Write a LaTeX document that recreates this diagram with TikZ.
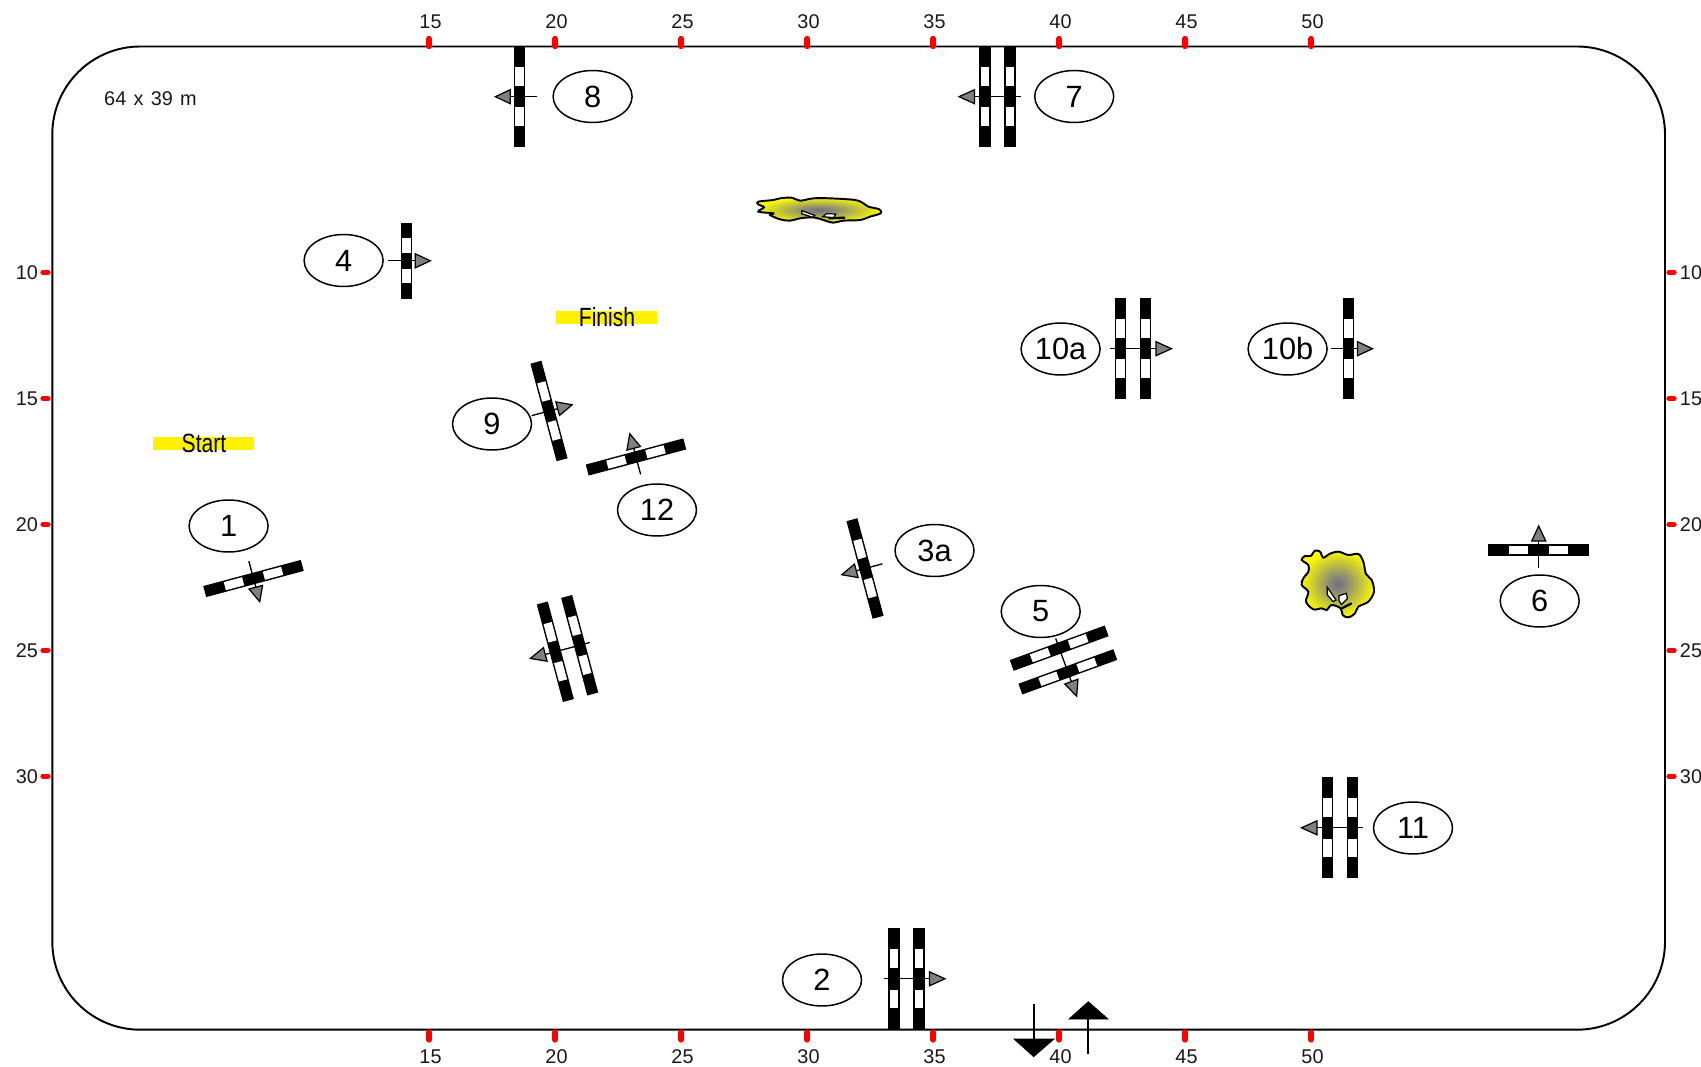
\documentclass[tikz,border=0pt]{standalone}
\usepackage{fontspec}
\setmainfont{Liberation Sans}
\usetikzlibrary{shapes.geometric}
\pgfdeclareradialshading{blobshade}{\pgfpoint{0bp}{0bp}}{color(0bp)=(gray!90!black);color(4bp)=(gray);color(26bp)=(yellow);color(50bp)=(yellow)}
\tikzset{
  course/.style={line width=1.1pt,draw=black},
  tick/.style={draw=red,line width=3pt,line cap=round},
  ticklabel/.style={font=\fontsize{11.3pt}{12pt}\selectfont,inner sep=0pt,text=black!90},
  num/.style={draw=black,fill=white,ellipse,line width=0.85pt,minimum width=1.58cm,minimum height=1.04cm,inner sep=0pt,font=\fontsize{17.5pt}{20pt}\selectfont},
  thinline/.style={draw=black,line width=0.75pt},
  arrowhead/.style={draw=black,fill=gray,line width=0.7pt,line join=miter},
  blackhead/.style={draw=black,fill=black},
  sidebar/.style={fill=yellow,draw=none},
  gate/.style={inner sep=0pt,font=\fontsize{15pt}{16pt}\selectfont},
  tunnel/.style={draw=black,line width=1.1pt,shading=blobshade},
  notch/.style={draw=black,fill=white,line width=0.7pt},
  notchline/.style={draw=black,line width=1.3pt},
}
% one striped bar, drawn in the current frame, at local x = #1, length #2
\newcommand{\stripebar}[2]{%
  \pgfmathsetmacro{\hl}{#2/2}\pgfmathsetmacro{\seg}{#2/5}\pgfmathsetmacro{\sb}{1.47*\seg}\pgfmathsetmacro{\sc}{0.53*\seg}%
  \fill[black] (#1-5.7,-\hl) rectangle (#1+5.7,\hl);
  \fill[white] (#1-4.2,-\sb) rectangle (#1+4.2,-\sc);
  \fill[white] (#1-4.2,\sc) rectangle (#1+4.2,\sb);
}
% single: centre, rotation, length
\newcommand{\singlejump}[4]{%
  \begin{scope}[shift={(#1,#2)},rotate=#3]
    \stripebar{0}{#4}
    \draw[thinline] (18,0) -- (-9,0);
    \draw[arrowhead] (-24,0) -- (-9,7) -- (-9,-7) -- cycle;
  \end{scope}}
\newcommand{\doublejump}[3]{%
  \begin{scope}[shift={(#1,#2)},rotate=#3]
    \stripebar{-12.6}{101}
    \stripebar{12.6}{101}
    \draw[thinline] (23,0) -- (-23,0);
    \draw[arrowhead] (-38.5,0) -- (-23,7) -- (-23,-7) -- cycle;
  \end{scope}}
\begin{document}
\begin{tikzpicture}[x=0.02cm,y=-0.02cm]
\useasboundingbox (0,0) rectangle (1701,1067);
\fill[white] (0,0) rectangle (1701,1067);
% course outline
\draw[course,rounded corners=1.76cm] (52.3,46.5) rectangle (1665,1029.7);
% ticks
\foreach \v/\px in {15/429,20/555,25/681,30/807,35/933,40/1059,45/1185,50/1311}{
  \draw[tick] (\px,38.5) -- (\px,46.5);
  \draw[tick] (\px,1032) -- (\px,1040);
  \node[ticklabel] (top\v) at (\px+1.5,22) {\v};
  \node[ticklabel] (bot\v) at (\px+1.5,1057) {\v};
}
\foreach \v/\py in {10/272.3,15/398.7,20/524.5,25/650.3,30/776.2}{
  \draw[tick] (43,\py) -- (48,\py);
  \draw[tick] (1669,\py) -- (1674,\py);
  \node[ticklabel] (lft\v) at (27,\py) {\v};
  \node[ticklabel] (rgt\v) at (1691,\py) {\v};
}
\node[ticklabel] (size) at (150.5,98.5) {64\hspace{0.09em} x\hspace{0.09em} 39\hspace{0.09em} m};
% start / finish
\fill[sidebar] (152.7,436.7) rectangle (254,450);
\node[gate] (start) at (204,443) {\scalebox{0.8}[1]{Start}};
\fill[sidebar] (556,311) rectangle (656.5,324.5);
\node[gate] (finish) at (607,317) {\scalebox{0.8}[1]{Finish}};
% jumps
\singlejump{519.3}{96.7}{0}{101}
\node[num] (n8) at (592.6,96.5) {8};
\doublejump{997.5}{96.7}{0}
\node[num] (n7) at (1074.2,96.5) {7};
\singlejump{406.3}{260.8}{180}{76}
\node[num] (n4) at (343.6,260.5) {4};
\doublejump{1133}{348.7}{180}
\node[num] (n10a) at (1060.6,349) {10a};
\singlejump{1348.5}{348.7}{180}{101}
\node[num] (n10b) at (1287.6,349) {10b};
\singlejump{549}{411}{195}{101}
\node[num] (n9) at (492,424) {9};
\singlejump{636}{457}{-75}{101}
\node[num] (n12) at (657,510) {12};
\singlejump{253.5}{578.5}{105}{101}
\node[num] (n1) at (228.6,526) {1};
\singlejump{865}{568.5}{15}{101}
\node[num] (n3a) at (934.5,550.5) {3a};
\doublejump{567.5}{648.5}{15}
\doublejump{1063.5}{660}{110}
\node[num] (n5) at (1040.7,611.5) {5};
\singlejump{1538.7}{550}{-90}{101}
\node[num] (n6) at (1539.7,601) {6};
\doublejump{906.5}{978.8}{180}
\node[num] (n2) at (822,980) {2};
\doublejump{1340}{827.8}{0}
\node[num] (n11) at (1413,828) {11};
% entry / exit arrows
\draw[thinline,line width=1pt] (1033.7,1004) -- (1033.7,1039);
\fill[blackhead] (1014,1039) -- (1054,1039) -- (1033.7,1056.7) -- cycle;
\draw[thinline,line width=1pt] (1088.3,1054) -- (1088.3,1019);
\fill[blackhead] (1069,1019) -- (1108,1019) -- (1088.3,1001.7) -- cycle;
% flat tunnel
\begin{scope}[shift={(720,170)},scale=1/3]
  \draw[tunnel] plot[smooth cycle,tension=0.55] coordinates {(115,95)(160,90)(180,85)(215,83)(240,92)(280,85)(330,85)(405,90)(430,100)(445,110)(478,118)(482,130)(450,140)(420,150)(370,152)(340,158)(310,150)(280,142)(240,145)(210,152)(180,148)(150,135)(160,130)(115,125)(132,112)(115,103)};
  \draw[notch] (245,122) -- (284,136) -- (278,142) -- (245,131) -- cycle;
  \draw[notch] (308,140) -- (320,131) -- (347,132) -- (342,143) -- cycle;
  \draw[notchline] (325,145) -- (375,143);
\end{scope}
% round tunnel
\begin{scope}[shift={(1270,530)},scale=1/3]
  \draw[tunnel] plot[smooth cycle,tension=0.55] coordinates {(95,90)(105,78)(122,78)(135,62)(150,65)(160,83)(178,72)(205,65)(235,75)(265,72)(280,95)(288,132)(305,150)(312,185)(295,215)(265,230)(255,250)(235,262)(218,255)(212,235)(185,225)(170,240)(155,235)(130,238)(108,215)(115,185)(95,165)(100,145)(115,125)(115,105)};
  \draw[notch] (172,172) -- (198,210) -- (190,215) -- (172,195) -- cycle;
  \draw[notch] (207,197) -- (229,190) -- (232,206) -- (214,224) -- (207,212) -- cycle;
  \draw[notchline] (215,235) -- (245,220);
\end{scope}
\end{tikzpicture}
\end{document}
